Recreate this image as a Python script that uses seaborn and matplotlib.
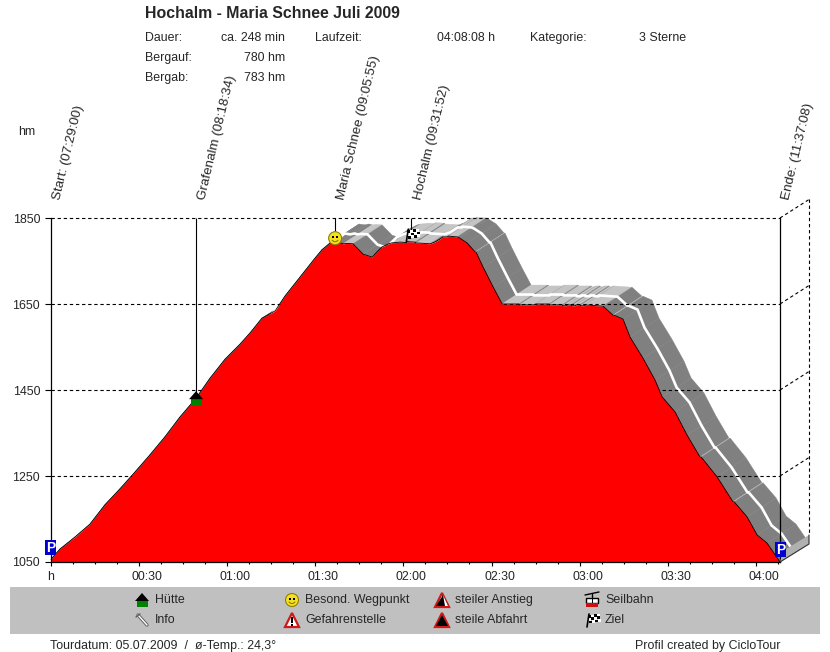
import numpy as np
import pandas as pd
import seaborn as sns
import matplotlib.pyplot as plt
from matplotlib.patches import Polygon, Rectangle, Circle
from matplotlib.transforms import ScaledTranslation

# profile
minutes = [0, 3.2, 8.3, 13.4, 18.5, 23.6, 28.7, 33.8, 38.9, 44, 49.5, 54.3, 59.4, 64.5, 67.9, 71.9, 76.4, 79.8,
           84.9, 90, 92.3, 95.1, 97, 98.5, 99.5, 101, 102.9, 106.3, 109.4, 111, 112.8, 115, 116, 118.9, 121, 121.3,
           124, 124.3, 127, 129.1, 131, 133.5, 135, 135.3, 138.3, 139, 141.7, 144.4, 144.7, 147.1, 150.5, 153.6,
           159.3, 159.5, 164.8, 165, 169.5, 169.7, 174, 174.2, 175.5, 175.7, 177, 177.2, 178.5, 178.7, 180, 180.2,
           181.5, 181.7, 187.9, 191.3, 191.7, 194.7, 197.1, 201.5, 205.6, 208, 212.4, 216.5, 220.9, 221.3, 226.7,
           232.1, 232.5, 236.9, 240.3, 243.7, 248.1]
elevation = [1055, 1080, 1108, 1138, 1183, 1220, 1259, 1299, 1341, 1387, 1431, 1478, 1522, 1557, 1583, 1617, 1634,
             1669, 1713, 1757, 1776, 1792, 1790, 1792, 1790, 1791, 1790, 1766, 1759, 1771, 1783, 1790, 1792, 1794,
             1793, 1795, 1794, 1792, 1791, 1790, 1795, 1806, 1806, 1808, 1806, 1804, 1792, 1771, 1771, 1736, 1690,
             1650, 1650, 1648, 1648, 1650, 1650, 1648, 1648, 1646, 1646, 1648, 1648, 1646, 1646, 1648, 1648, 1646,
             1646, 1648, 1645, 1624, 1624, 1615, 1573, 1524, 1473, 1434, 1399, 1345, 1294, 1294, 1248,
             1190, 1190, 1155, 1113, 1094, 1050]

y_ticks = [1050, 1250, 1450, 1650, 1850]
x_major = [0, 30, 60, 90, 120, 150, 180, 210, 240]
x_labels = ['h', '00:30', '01:00', '01:30', '02:00', '02:30', '03:00', '03:30', '04:00']
x_minor = np.arange(0, 248, 7.5)

way_min = [0, 49.5, 96.8, 122.7, 248.1]
way_hm = [1055, 1431, 1792, 1794, 1050]
way_names = ['Start: (07:29:00)', 'Grafenalm (08:18:34)', 'Maria Schnee (09:05:55)', 'Hochalm (09:31:52)',
             'Ende: (11:37:08)']

legend_col1 = ['Hütte', 'Info']
legend_col2 = ['Besond. Wegpunkt', 'Gefahrenstelle']
legend_col3 = ['steiler Anstieg', 'steile Abfahrt']
legend_col4 = ['Seilbahn', 'Ziel']

sns.set_style('white')
plt.rcParams['font.family'] = ['Liberation Sans', 'DejaVu Sans']
plt.rcParams['font.size'] = 8.95

W, H = 830, 652
fig = plt.figure(figsize=(W / 100, H / 100), dpi=100)
ax = fig.add_axes([50.5 / W, 1 - 562 / H, 729.5 / W, 344 / H])
over = fig.add_axes([0, 0, 1, 1], zorder=10)
over.set_xlim(0, W)
over.set_ylim(H, 0)
over.axis('off')
over.patch.set_alpha(0)

df = pd.DataFrame({'minutes': minutes, 'hm': elevation})
dx, dy = 9.86, 44  # depth of the 3d band

# band behind the profile, one quad per segment
for i in range(len(df) - 1):
    x0, x1 = minutes[i], minutes[i + 1]
    y0, y1 = elevation[i], elevation[i + 1]
    slope = abs(y1 - y0) / (x1 - x0)
    col = '#c4c4c4' if slope < 1.0 else '#808080'
    ax.fill([x0, x1, x1 + dx, x0 + dx], [y0, y1, y1 + dy, y0 + dy], color=col, lw=0.3, clip_on=False, zorder=1)
ax.plot(df['minutes'] + dx / 2, df['hm'] + dy / 2, color='white', lw=1.9, clip_on=False, zorder=1.5)

# dashed grid, also over the band
ax.hlines(y_ticks[1:], 0, 248.1, color='black', lw=0.8, ls=(0, (3, 2.5)), clip_on=False, zorder=2)
ax.fill_between(df['minutes'], df['hm'], 1050, color='#ff0000', lw=0, zorder=3)
sns.lineplot(data=df, x='minutes', y='hm', color='black', lw=0.6, ax=ax, estimator=None, sort=False, zorder=4)

ax.set_xlim(0, 248.1)
ax.set_ylim(1050, 1850)
ax.set_xlabel('')
ax.set_ylabel('')
ax.set_yticks(y_ticks)
ax.set_xticks(x_major)
ax.set_xticklabels(x_labels)
ax.set_xticks(x_minor, minor=True)
ax.tick_params(axis='x', which='major', length=3, width=0.8, color='black', pad=3.5, bottom=True, labelsize=8.95)
ax.tick_params(axis='x', which='minor', length=1.2, width=0.8, color='black', bottom=True)
ax.tick_params(axis='y', length=4, width=0.8, color='black', pad=3.5, left=True, labelsize=8.95)
shift = ScaledTranslation(8 / 100, 0, fig.dpi_scale_trans)
for lab in ax.get_xticklabels()[1:]:
    lab.set_transform(lab.get_transform() + shift)
ax.patch.set_alpha(0)
for s in ['left', 'right', 'bottom']:
    ax.spines[s].set_color('black')
    ax.spines[s].set_linewidth(0.9)
    ax.spines[s].set_zorder(5)
ax.spines['top'].set_visible(False)

# stems and rotated names
ax.vlines(way_min[1], way_hm[1], 1850, color='black', lw=0.8, zorder=2)
ax.vlines(way_min[2:4], 1810, 1850, color='black', lw=0.8, zorder=2)
for m, name in zip(way_min, way_names):
    ax.annotate(name, (m, 1850), xytext=(6.5, 18), textcoords='offset pixels', rotation=76.5,
                rotation_mode='anchor', ha='left', va='center', fontsize=9.6, annotation_clip=False)


def px(m, h):
    p = ax.transData.transform((m, h))
    return p[0], H - p[1]


def rect(x, y, w, h, col, **kw):
    over.add_patch(Rectangle((x, y), w, h, facecolor=col, lw=0, **kw))


def poly(pts, col, **kw):
    over.add_patch(Polygon(pts, closed=True, facecolor=col, **kw))


def hut(x, y):
    rect(x - 5.5, y, 11, 7, '#008000')
    poly([(x - 7, y + 1), (x, y - 7), (x + 7, y + 1)], 'black', lw=0)


def smiley(x, y):
    over.add_patch(Circle((x, y), 6.5, facecolor='#f5e020', edgecolor='#908000', lw=0.8))
    rect(x - 3, y - 2, 2, 2, 'black')
    rect(x + 1, y - 2, 2, 2, 'black')
    over.plot([x - 3, x - 1, x + 1, x + 3], [y + 2, y + 3.5, y + 3.5, y + 2], color='#807000', lw=0.7)


def flag(x, y):
    over.plot([x - 5, x - 3], [y + 7, y - 6], color='black', lw=1.2)
    for i in range(4):
        for j in range(3):
            c = 'black' if (i + j) % 2 == 0 else 'white'
            rect(x - 4 + i * 3 + j * 0.3, y - 5 + j * 2.8 - i * 0.5, 3, 2.8, c)


def parking(x, y):
    rect(x - 5.5, y - 7.5, 11, 15, '#0000d0')
    over.text(x, y, 'P', color='white', fontweight='bold', fontsize=10, ha='center', va='center')


def warn(x, y, inner):
    poly([(x - 7, y + 7), (x, y - 7), (x + 7, y + 7)], 'white', edgecolor='#d01818', lw=1.6)
    if inner == 'danger':
        rect(x - 1, y - 3, 2, 6, 'black')
        rect(x - 1, y + 4, 2, 2, 'black')
    elif inner == 'up':
        poly([(x - 6, y + 6), (x + 1, y - 5), (x + 6, y + 6)], 'black', lw=0)
        poly([(x + 1, y - 5), (x + 6, y + 6), (x + 3, y + 6)], 'white', lw=0)
    else:
        poly([(x - 6, y + 6), (x, y - 5), (x + 6, y + 6)], 'black', lw=0)
        poly([(x - 6, y + 6), (x, y - 5), (x - 2, y - 1)], '#404040', lw=0)


def gondola(x, y):
    over.plot([x - 7, x + 7], [y - 5, y - 8], color='black', lw=1)
    over.plot([x, x], [y - 6, y - 2], color='black', lw=1)
    over.add_patch(Rectangle((x - 6, y - 2), 12, 5, facecolor='white', edgecolor='black', lw=1))
    rect(x, y - 2, 1, 5, 'black')
    rect(x - 6, y + 3, 12, 4, '#d01010')


def pin(x, y):
    over.plot([x - 4, x + 5], [y - 5, y + 5], color='#606060', lw=2.4)
    over.plot([x - 4, x + 5], [y - 5, y + 5], color='white', lw=1)
    over.plot([x - 6, x - 2], [y - 3, y - 6], color='#606060', lw=1)


# end of the band at the lower right
poly([(780, 562), (809, 544), (809, 535), (783, 551)], '#b0b0b0', lw=0)
over.plot([780, 809, 809], [562, 544, 535], color='#303030', lw=0.8)

# back wall
over.plot([809, 809], [199, 535], color='black', lw=0.8, ls=(0, (3, 2.5)))
for t in y_ticks[1:]:
    bx, by = px(248.1, t)
    over.plot([bx, bx + 29], [by, by - 18.5], color='black', lw=0.8, ls=(0, (3, 2.5)))

hut(*px(way_min[1], 1431))
smiley(*px(96.8, 1803))
flag(*px(122.7, 1810))
parking(50.5, 547.5)
parking(780.5, 549.5)

# header
over.text(145, 13, 'Hochalm - Maria Schnee Juli 2009', fontsize=11.4, fontweight='bold', va='center')
over.text(145, 38, 'Dauer:', va='center')
over.text(285, 38, 'ca. 248 min', ha='right', va='center')
over.text(315, 38, 'Laufzeit:', va='center')
over.text(495, 38, '04:08:08 h', ha='right', va='center')
over.text(530, 38, 'Kategorie:', va='center')
over.text(639, 38, '3 Sterne', va='center')
over.text(145, 58, 'Bergauf:', va='center')
over.text(285, 58, '780 hm', ha='right', va='center')
over.text(145, 78, 'Bergab:', va='center')
over.text(285, 78, '783 hm', ha='right', va='center')
over.text(18, 132, 'hm', va='center')

# legend bar
rect(10, 587, 810, 47, '#c0c0c0')
for x, labels in zip([155, 305, 455, 605], [legend_col1, legend_col2, legend_col3, legend_col4]):
    for y, t in zip([600, 620], labels):
        over.text(x, y, t, va='center')
hut(142, 600)
pin(142, 620)
smiley(292, 600)
warn(292, 620, 'danger')
warn(442, 600, 'up')
warn(442, 620, 'down')
gondola(592, 600)
flag(592, 620)

over.text(50, 646, 'Tourdatum: 05.07.2009  /  ø-Temp.: 24,3°', va='center')
over.text(780, 646, 'Profil created by CicloTour', ha='right', va='center')

plt.savefig('out.png', dpi=100)
